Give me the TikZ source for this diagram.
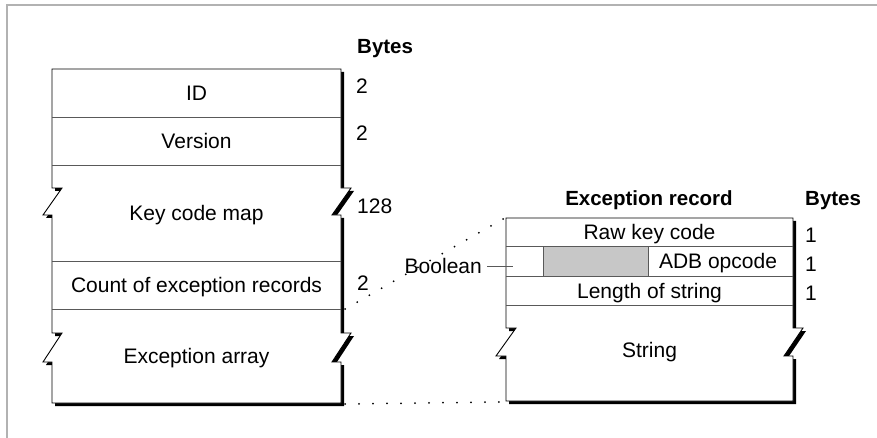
\documentclass[tikz,border=0pt]{standalone}
\usepackage{fontspec}
\setmainfont{Liberation Sans}
\begin{document}
\begin{tikzpicture}[x=1pt,y=-1pt,
  every node/.style={inner sep=0pt,text height=15pt,text depth=0pt,font=\fontsize{21}{25}\selectfont},
  lbl/.style={anchor=center},
  num/.style={anchor=west},
  hdr/.style={anchor=center,font=\fontsize{20.5}{24}\selectfont\bfseries},
  outline/.style={draw=black,line width=0.9pt,fill=white},
  shadowfill/.style={fill=black},
  sep/.style={draw=black!65,line width=0.9pt},
  dotline/.style={line width=2pt,line cap=round,dash pattern=on 0pt off 14pt},
  framel/.style={draw=black!30,line width=1.5pt}]
\useasboundingbox (0,0) rectangle (877,438);
% frame
\draw[framel] (7,438) -- (7,5) -- (877,5);
% left box
\def\leftbox{(52,69) -- (341,69) -- (341,188) -- (351,188) -- (332,215) -- (341,215) -- (341,333) -- (351,333) -- (332,362) -- (341,362) -- (341,403) -- (52,403) -- (52,362) -- (43,362) -- (62,333) -- (52,333) -- (52,215) -- (43,215) -- (62,188) -- (52,188) -- cycle}
\begin{scope}[shift={(3,3)}]
\fill[shadowfill] \leftbox;
\end{scope}
\draw[outline] \leftbox;
\draw[sep] (52,117) -- (341,117);
\draw[sep] (52,165) -- (341,165);
\draw[sep] (52,261) -- (341,261);
\draw[sep] (52,309) -- (341,309);
\node[lbl] (id) at (196.5,93) {ID};
\node[lbl] (ver) at (196.5,141) {Version};
\node[lbl] (kcm) at (196.5,213) {Key code map};
\node[lbl] (cnt) at (196.5,285) {Count of exception records};
\node[lbl] (exa) at (196.5,356) {Exception array};
\node[hdr,anchor=west] (bytesL) at (357,46) {Bytes};
\node[num] (n1) at (356,86) {2};
\node[num] (n2) at (356,133) {2};
\node[num] (n3) at (357,206) {128};
\node[num] (n4) at (357,283) {2};
% right box
\def\rightbox{(506,218) -- (793,218) -- (793,328) -- (803,328) -- (784,356) -- (793,356) -- (793,401) -- (506,401) -- (506,356) -- (496,356) -- (516,328) -- (506,328) -- cycle}
\begin{scope}[shift={(3,3)}]
\fill[shadowfill] \rightbox;
\end{scope}
\draw[outline] \rightbox;
\fill[black!22] (543,246) rectangle (648,276);
\draw[sep] (543,246) -- (543,276);
\draw[sep] (648,246) -- (648,276);
\draw[sep] (506,246) -- (793,246);
\draw[sep] (506,276) -- (793,276);
\draw[sep] (506,305) -- (793,305);
\node[hdr] (exrec) at (649,198) {Exception record};
\node[hdr,anchor=west] (bytesR) at (805,198) {Bytes};
\node[lbl] (raw) at (649.5,232) {Raw key code};
\node[lbl] (adb) at (718,261) {ADB opcode};
\node[lbl] (len) at (649.5,290.5) {Length of string};
\node[lbl] (str) at (649.5,350) {String};
\node[num] (r1) at (805,235) {1};
\node[num] (r2) at (805,264) {1};
\node[num] (r3) at (805,293) {1};
\node[anchor=east] (bool) at (482,266) {Boolean};
\coordinate (boolend) at (513,266);
\draw[sep] ([xshift=5pt]bool.east) -- (boolend);
% dotted connectors
\coordinate (lcnt) at (345,309);
\coordinate (rtop) at (505,218);
\coordinate (lbot) at (345,404);
\coordinate (rbot) at (499,402);
\draw[dotline] (lcnt) -- (rtop);
\draw[dotline] (lbot) -- (rbot);
\end{tikzpicture}
\end{document}
